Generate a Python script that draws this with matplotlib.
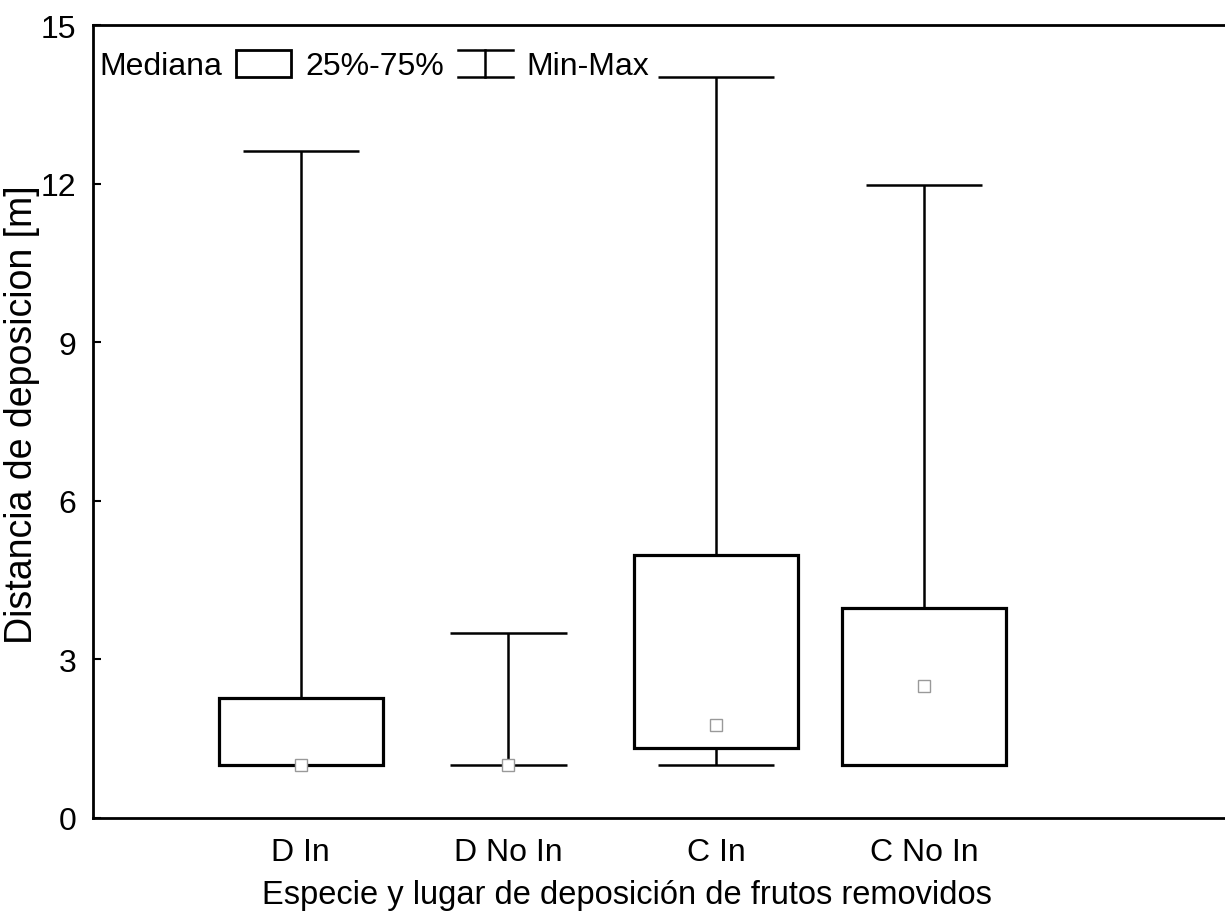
import numpy as np
import matplotlib
matplotlib.use("Agg")
import matplotlib.pyplot as plt
from matplotlib.lines import Line2D
from matplotlib.patches import Patch
from matplotlib.legend_handler import HandlerBase

plt.rcParams['font.family'] = ['Liberation Sans', 'DejaVu Sans']
fontsize = 23

# data
categories = ['D In', 'D No In', 'C In', 'C No In']
minimum = [1.0, 1.0, 1.0, 1.0]
q1 = [1.0, 1.0, 1.32, 1.0]
median = [1.0, 1.0, 1.76, 2.5]
q3 = [2.27, 1.0, 4.97, 3.97]
maximum = [12.61, 3.50, 14.02, 11.98]
yticks = [0, 3, 6, 9, 12, 15]


class HandlerMinMax(HandlerBase):
	# draws the I-beam symbol for the legend
	def create_artists(self, legend, orig_handle, xdescent, ydescent, width, height, fontsize, trans):
		x0, x1 = -xdescent, -xdescent + width
		y0, y1 = -ydescent, -ydescent + height
		xm = (x0 + x1) / 2
		lines = [Line2D([x0, x1], [y1, y1]), Line2D([x0, x1], [y0, y0]), Line2D([xm, xm], [y0, y1])]
		for ln in lines:
			ln.set_color('black')
			ln.set_linewidth(1.8)
			ln.set_transform(trans)
		return lines


fig = plt.figure(figsize=(12.25, 9.2), dpi=100)
ax = fig.add_axes([93 / 1225, 1 - 819 / 920, 1 - 93 / 1225, (819 - 26) / 920])

pos = np.arange(1, len(categories) + 1)
box_w = 0.79
cap_w = 0.56

# whiskers
ax.vlines(pos, q3, maximum, color='black', lw=1.8, zorder=2)
ax.vlines(pos, minimum, q1, color='black', lw=1.8, zorder=2)
ax.hlines(maximum, pos - cap_w / 2, pos + cap_w / 2, color='black', lw=1.8, zorder=2)
ax.hlines(minimum, pos - cap_w / 2, pos + cap_w / 2, color='black', lw=1.8, zorder=2)

# boxes (skip the ones with no spread)
heights = np.array(q3) - np.array(q1)
has_box = heights > 0
ax.bar(pos[has_box], heights[has_box], bottom=np.array(q1)[has_box], width=box_w,
	facecolor='white', edgecolor='black', linewidth=2.3, zorder=3)

# medians
ax.plot(pos, median, linestyle='none', marker='s', markersize=8, markerfacecolor='white',
	markeredgecolor='#999999', markeredgewidth=1.0, zorder=4)

ax.set_xlim(0, 5.45)
ax.set_ylim(0, 15)
ax.set_yticks(yticks)
ax.set_xticks(pos)
ax.set_xticklabels(categories, fontsize=fontsize)
ax.tick_params(axis='x', length=0, pad=14)
ax.tick_params(axis='y', direction='in', length=6, width=1.5, pad=12, labelsize=fontsize)

for side in ['left', 'bottom', 'top']:
	ax.spines[side].set_linewidth(2.0)
ax.spines['right'].set_visible(False)

ax.set_xlabel('Especie y lugar de deposición de frutos removidos', fontsize=23.5)
ax.xaxis.set_label_coords((627 - 93) / (1225 - 93), -0.077)
ax.set_ylabel('Distancia de deposicion [m]', fontsize=27)
ax.yaxis.set_label_coords(-0.047, 0.51)

handles = [Line2D([], [], linestyle='none'),
	Patch(facecolor='white', edgecolor='black', linewidth=2.0),
	Line2D([], [], color='black')]
labels = ['Mediana', '25%-75%', 'Min-Max']
leg = fig.legend(handles, labels, loc='center left', bbox_to_anchor=(30 / 1225, 1 - 66.5 / 920),
	ncol=3, frameon=False, fontsize=fontsize, handlelength=1.72, handleheight=0.97,
	handletextpad=0.44, columnspacing=0.44, borderpad=0, borderaxespad=0,
	handler_map={handles[2]: HandlerMinMax()})

plt.savefig('out.png', dpi=100)
